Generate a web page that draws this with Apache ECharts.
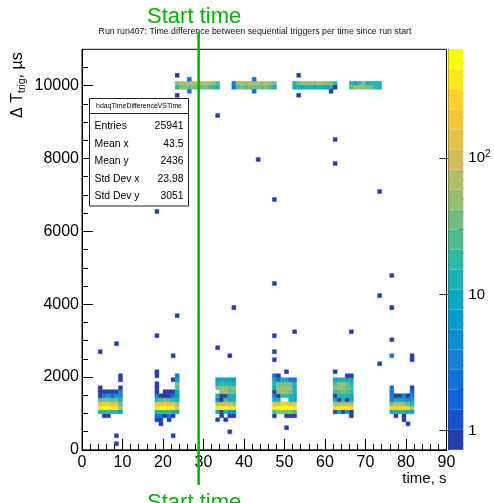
<!DOCTYPE html>
<html><head><meta charset="utf-8">
<script src="https://cdn.jsdelivr.net/npm/echarts@6/dist/echarts.min.js"></script>
<style>html,body{margin:0;padding:0;background:#fff}#c{width:494px;height:503px}</style>
</head><body><div id="c"></div>
<script>
// ---------------- data ----------------
const TITLE = 'Run run407: Time difference between sequential triggers per time since run start';
const X_NAME = 'time, s';
const X_BIN = 1;      // s per bin
const Y_BIN = 110;    // µs per bin
const X_MIN = 0, X_MAX = 90, X_STEP = 10;
const Y_MIN = 0, Y_MAX = 11000, Y_STEP = 2000;
const Y_MINOR_TICKS = [500,1000,1500,2500,3000,3500,4500,5000,5500,6500,7000,7500,8500,9000,9500,10500];
const START_TIME = 28.8;
const START_LABEL = 'Start time';
const Z_LOG_MIN = -0.14, Z_LOG_MAX = 2.8;
const CB_MAJOR = [1, 10, 100];
const CB_MINOR = [0.8,0.9,2,3,4,5,6,7,8,9,20,30,40,50,60,70,80,90,200,300,400,500,600];
const STAT_TITLE = 'hdaqTimeDifferenceVSTime';
const STAT_LABELS = ['Entries','Mean x','Mean y','Std Dev x','Std Dev y'];
const STAT_VALUES = ['25941','43.5','2436','23.98','3051'];

// clusters: [first time bin, rows of [dt bin, counts per time bin...]]
const CLUSTER_1 = [4, [
  [8, 0,1,1,0,0,0],
  [9, 12,15,18,15,12,6],
  [10, 380,450,450,420,380,60],
  [11, 150,180,180,160,150,40],
  [12, 25,35,30,28,30,12],
  [13, 1,3,6,2,6,5],
  [14, 1,1,1,1,1,3],
  [15, 1,0,0,0,0,1],
  [17, 0,0,0,0,0,1],
  [18, 0,0,0,0,0,1]
]];
const CLUSTER_2 = [18, [
  [6, 0,1,0,0,0,0],
  [7, 1,1,0,1,0,0],
  [8, 2,2,1,2,1,0],
  [9, 15,20,20,18,12,8],
  [10, 380,450,450,420,350,150],
  [11, 140,170,170,150,130,60],
  [12, 20,25,30,25,20,15],
  [13, 3,1,1,1,2,6],
  [14, 1,0,1,1,1,8],
  [15, 1,0,0,0,0,25],
  [16, 1,0,0,0,0,30],
  [17, 0,0,0,0,1,6],
  [18, 1,0,0,0,0,2],
  [19, 1,0,0,0,0,0]
]];
const CLUSTER_3 = [33, [
  [7, 1,0,1,0,0],
  [8, 0,1,0,1,1],
  [9, 8,1,12,4,4],
  [10, 420,480,480,420,380],
  [11, 80,100,110,90,70],
  [12, 3,1,25,8,15],
  [13, 12,1,1,15,12],
  [14, 0,50,45,40,30],
  [15, 35,45,45,40,30],
  [16, 15,20,20,18,15],
  [17, 6,8,8,8,6]
]];
const CLUSTER_4 = [47, [
  [8, 1,0,0,1,1,1],
  [9, 25,30,35,35,30,25],
  [10, 380,450,480,480,450,380],
  [11, 120,160,170,170,160,120],
  [12, 10,15,0,0,12,8],
  [13, 3,1,20,20,15,8],
  [14, 1,40,45,45,40,15],
  [15, 8,50,55,55,50,15],
  [16, 15,30,35,35,30,12],
  [17, 8,2,10,10,2,2],
  [18, 2,0,0,0,0,0]
]];
const CLUSTER_5 = [62, [
  [8, 0,0,0,0,1],
  [9, 1,6,1,4,1],
  [10, 300,380,380,350,300],
  [11, 60,80,80,70,60],
  [12, 10,1,12,1,10],
  [13, 1,12,15,12,10],
  [14, 20,28,30,25,18],
  [15, 30,45,45,40,28],
  [16, 25,45,45,35,20],
  [17, 8,15,15,10,8],
  [18, 0,0,0,1,1],
  [19, 1,0,0,0,0]
]];
const CLUSTER_6 = [76, [
  [7, 0,0,0,1,0,0],
  [8, 0,1,0,1,0,0],
  [9, 10,12,15,12,10,6],
  [10, 250,300,320,300,250,60],
  [11, 40,60,60,50,40,20],
  [12, 3,8,10,8,5,6],
  [13, 3,1,1,3,1,3],
  [14, 2,0,0,0,0,2],
  [15, 2,0,0,0,0,1]
]];
const BAND_A = [23, [
  [91, 45,60,70,65,75,60,70,65,60,55,25],
  [90, 20,30,35,30,35,30,28,30,25,20,15]
]];
const BAND_B = [37, [
  [91, 3,50,60,55,65,70,60,55,60,50,30],
  [90, 2,25,30,28,30,35,30,28,30,25,15]
]];
const BAND_C = [52, [
  [91, 15,40,45,50,55,50,60,55,50,45,20],
  [90, 10,15,8,12,15,10,12,8,10,15,1]
]];
const BAND_D = [66, [
  [91, 20,10,12,40,15,12,15,12],
  [90, 25,45,55,50,40,30,20,15]
]];
// isolated cells: [time bin, dt bin, count]
const OUTLIERS = [
  [33,83,1],[62,77,1],[43,72,1],[62,71,1],[73,64,1],[47,62,1],[18,59,1],[76,43,1],
  [47,41,1],[73,38,1],[37,35,1],[76,35,1],[23,33,1],[18,28,1],[47,28,1],[52,29,1],
  [66,29,1],[76,27,1],[4,24,1],[8,26,1],[22,23,1],[33,25,1],[47,24,1],[36,23,1],
  [76,23,2],[81,23,1],[81,22,1],[47,22,1],[73,21,1],[50,19,1],[48,18,1],[8,3,1],
  [8,1,1],[22,3,1],[36,4,1],[50,5,1],[80,6,1],
  [23,93,1],[23,88,1],[26,92,2],[26,89,2],[42,92,2],[42,89,2],[53,93,1],[53,88,1],[61,89,1]
];

// ---------------- build ----------------
const CELLS = [];
[CLUSTER_1, CLUSTER_2, CLUSTER_3, CLUSTER_4, CLUSTER_5, CLUSTER_6, BAND_A, BAND_B, BAND_C, BAND_D].forEach(function (cl) {
  const t0 = cl[0];
  cl[1].forEach(function (row) {
    for (let j = 1; j < row.length; j++) {
      if (row[j] > 0) CELLS.push([(t0 + j - 1) * X_BIN, row[0] * Y_BIN, row[j]]);
    }
  });
});
OUTLIERS.forEach(function (o) { CELLS.push([o[0] * X_BIN, o[1] * Y_BIN, o[2]]); });

const BIRD = [[0,0.2082,0.1664,0.5293],[0.125,0.0592,0.3599,0.8684],[0.25,0.0780,0.5041,0.8385],
  [0.375,0.0232,0.6419,0.7914],[0.5,0.1802,0.7178,0.6425],[0.625,0.5301,0.7492,0.4662],
  [0.75,0.8186,0.7328,0.3499],[0.875,0.9956,0.7862,0.1968],[1,0.9764,0.9832,0.0539]];
function bird(f) {
  f = Math.max(0, Math.min(1, f));
  for (let i = 0; i < BIRD.length - 1; i++) {
    const a = BIRD[i], b = BIRD[i + 1];
    if (f <= b[0]) {
      const t = (f - a[0]) / (b[0] - a[0]);
      const c = [1,2,3].map(function (k) { return Math.round(255 * (a[k] + (b[k] - a[k]) * t)); });
      return 'rgb(' + c.join(',') + ')';
    }
  }
  return 'rgb(249,251,14)';
}
const NLEV = 20;
const PIECES = [];
for (let i = 0; i < NLEV; i++) {
  const lo = Math.pow(10, Z_LOG_MIN + (Z_LOG_MAX - Z_LOG_MIN) * i / NLEV);
  const hi = Math.pow(10, Z_LOG_MIN + (Z_LOG_MAX - Z_LOG_MIN) * (i + 1) / NLEV);
  const frac = Math.floor((i + 0.99) * 255 / NLEV) / 254;
  const p = { color: bird(frac) };
  p.gte = (i === 0) ? 0 : lo;
  if (i < NLEV - 1) p.lt = hi; else p.lte = 1e9;
  PIECES.push(p);
}

const FONT = "'Liberation Sans', Arial, Helvetica, sans-serif";
const GREEN = '#00b400';
const PLOT = { left: 82, top: 49.3, width: 364.5, height: 400.5 };
const CB = { left: 448.3, top: 49.3, width: 15, height: 400.5 };

const chart = echarts.init(document.getElementById('c'), null, { renderer: 'canvas', width: 494, height: 503 });

const blackLine = { lineStyle: { color: '#000', width: 1 } };
const plain = function (v) { return String(v); };
const option = {
  animation: false,
  backgroundColor: '#fff',
  title: {
    text: TITLE, left: 255, top: 27.5, textAlign: 'center', padding: 0,
    textStyle: { fontSize: 8.8, fontWeight: 'normal', color: '#111', fontFamily: FONT }
  },
  grid: [
    { left: PLOT.left, top: PLOT.top, width: PLOT.width, height: PLOT.height, show: true,
      borderColor: '#000', borderWidth: 1, backgroundColor: 'transparent', containLabel: false },
    { left: CB.left, top: CB.top, width: CB.width, height: CB.height, show: false, containLabel: false }
  ],
  xAxis: [
    { gridIndex: 0, type: 'value', min: X_MIN, max: X_MAX, interval: X_STEP,
      name: X_NAME, nameLocation: 'end', nameGap: 0, nameMoveOverlap: false,
      nameTextStyle: { fontFamily: FONT, fontSize: 15, color: '#000', align: 'right', verticalAlign: 'top', padding: [22, 0, 0, 0] },
      axisLine: blackLine,
      axisTick: { inside: true, length: 11, lineStyle: { color: '#000' } },
      minorTick: { show: true, splitNumber: 5, length: 6, lineStyle: { color: '#000' } },
      axisLabel: { fontFamily: FONT, fontSize: 16, color: '#000', margin: 5, formatter: plain },
      splitLine: { show: false }, minorSplitLine: { show: false } },
    { gridIndex: 1, type: 'value', min: 0, max: 1, show: false }
  ],
  yAxis: [
    { gridIndex: 0, type: 'value', position: 'left', min: Y_MIN, max: Y_MAX, interval: Y_STEP,
      name: '{a|\u0394 T}{b|trig}{a|, \u00b5s}', nameLocation: 'end', nameRotate: 90, nameGap: -3, nameMoveOverlap: false,
      nameTextStyle: { fontFamily: FONT, color: '#000', align: 'right', verticalAlign: 'bottom', padding: [0, 0, 54, 0],
        rich: { a: { fontFamily: FONT, fontSize: 16, color: '#000' },
                b: { fontFamily: FONT, fontSize: 10.5, color: '#000', padding: [10, 0, 0, 0] } } },
      axisLine: blackLine,
      axisTick: { inside: true, length: 11, lineStyle: { color: '#000' } },
      axisLabel: { fontFamily: FONT, fontSize: 16, color: '#000', margin: 3, showMaxLabel: false, formatter: plain },
      splitLine: { show: false } },
    { gridIndex: 0, type: 'value', position: 'left', offset: 0, min: Y_MIN, max: Y_MAX,
      axisLine: { show: false },
      axisTick: { inside: true, length: 6, customValues: Y_MINOR_TICKS, lineStyle: { color: '#000' } },
      axisLabel: { show: false }, splitLine: { show: false } },
    { gridIndex: 1, type: 'value', position: 'right', offset: 0, min: Z_LOG_MIN, max: Z_LOG_MAX,
      axisLine: { show: true, lineStyle: { color: '#333', width: 1 } },
      axisTick: { inside: true, length: 9, customValues: CB_MAJOR.map(Math.log10), lineStyle: { color: '#333' } },
      axisLabel: { customValues: CB_MAJOR.map(Math.log10), fontFamily: FONT, fontSize: 15, color: '#000', margin: 5,
        formatter: function (v) { const e = Math.round(v); return e === 0 ? '1' : (e === 1 ? '10' : '10{sup|' + e + '}'); },
        rich: { sup: { fontFamily: FONT, fontSize: 10, color: '#000', padding: [0, 0, 8, 0] } } },
      splitLine: { show: false } },
    { gridIndex: 1, type: 'value', position: 'right', offset: 0, min: Z_LOG_MIN, max: Z_LOG_MAX,
      axisLine: { show: false },
      axisTick: { inside: true, length: 5, customValues: CB_MINOR.map(Math.log10), lineStyle: { color: '#333' } },
      axisLabel: { show: false }, splitLine: { show: false } }
  ],
  visualMap: {
    type: 'piecewise', pieces: PIECES, dimension: 2, seriesIndex: 0, orient: 'vertical',
    left: CB.left, top: CB.top, itemWidth: CB.width, itemHeight: CB.height / NLEV, itemGap: 0,
    itemSymbol: 'rect', showLabel: false, selectedMode: false, padding: 0, hoverLink: false
  },
  series: [{
    type: 'custom', xAxisIndex: 0, yAxisIndex: 0, data: CELLS, encode: { x: 0, y: 1 },
    clip: true, silent: true,
    renderItem: function (params, api) {
      const x = api.value(0), y = api.value(1);
      const p0 = api.coord([x, y + Y_BIN]);
      const p1 = api.coord([x + X_BIN, y]);
      const col = api.visual('color');
      return { type: 'rect', shape: { x: p0[0], y: p0[1], width: p1[0] - p0[0], height: p1[1] - p0[1] },
               style: { fill: col, stroke: col, lineWidth: 0.4 } };
    }
  }]
};
chart.setOption(option);

const sx = chart.convertToPixel({ xAxisIndex: 0 }, START_TIME);
const box = { x: 89.5, y: 98.5, w: 99, h: 107.5, head: 15 };
const rowY = [125.7, 144, 161.3, 178.7, 196];
const g = [
  { type: 'rect', z: 50, shape: { x: box.x, y: box.y, width: box.w, height: box.h },
    style: { fill: '#fff', stroke: '#222', lineWidth: 1 } },
  { type: 'line', z: 51, shape: { x1: box.x, y1: box.y + box.head, x2: box.x + box.w, y2: box.y + box.head },
    style: { stroke: '#222', lineWidth: 1 } },
  { type: 'text', z: 52, x: box.x + box.w / 2, y: box.y + box.head / 2 + 0.5,
    style: { text: STAT_TITLE, fill: '#000', font: '6.9px ' + FONT, align: 'center', verticalAlign: 'middle' } }
];
STAT_LABELS.forEach(function (l, i) {
  g.push({ type: 'text', z: 52, x: box.x + 5, y: rowY[i],
    style: { text: l, fill: '#000', font: '10.4px ' + FONT, align: 'left', verticalAlign: 'middle' } });
  g.push({ type: 'text', z: 52, x: box.x + box.w - 5, y: rowY[i],
    style: { text: STAT_VALUES[i], fill: '#000', font: '10.4px ' + FONT, align: 'right', verticalAlign: 'middle' } });
});
g.push({ type: 'line', z: 60, shape: { x1: sx, y1: 31.7, x2: sx, y2: 485 }, style: { stroke: GREEN, lineWidth: 2.5 } });
g.push({ type: 'text', z: 60, x: sx - 4.5, y: 16.5,
  style: { text: START_LABEL, fill: GREEN, font: '22px ' + FONT, align: 'center', verticalAlign: 'middle' } });
g.push({ type: 'text', z: 60, x: sx - 4.5, y: 503,
  style: { text: START_LABEL, fill: GREEN, font: '22px ' + FONT, align: 'center', verticalAlign: 'middle' } });
chart.setOption({ graphic: g });
</script>
</body></html>
